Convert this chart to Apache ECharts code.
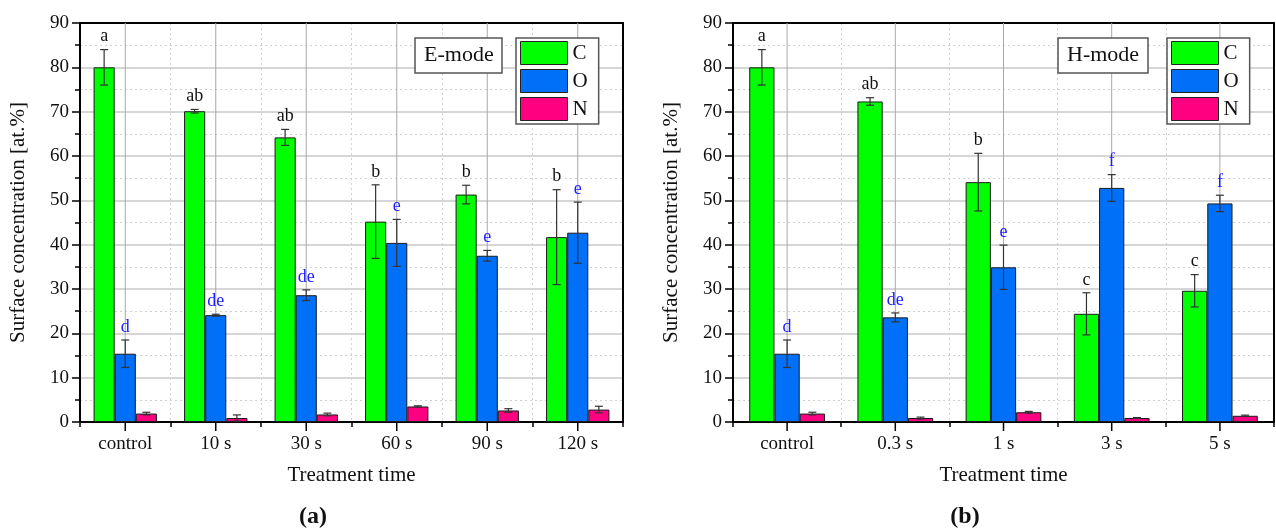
<!DOCTYPE html>
<html>
<head>
<meta charset="utf-8">
<script src="https://cdn.jsdelivr.net/npm/echarts@6/dist/echarts.min.js"></script>
<style>
html,body{margin:0;padding:0;background:#fff;}
#chart{width:1276px;height:530px;}
</style>
</head>
<body>
<div id="chart"></div>
<script>
// ---- data ----
const catsA = ['control', '10 s', '30 s', '60 s', '90 s', '120 s'];
const cA = [80, 70.1, 64.2, 45.2, 51.3, 41.7];
const cAErr = [4, 0.4, 1.8, 8.3, 2.1, 10.7];
const oA = [15.4, 24.1, 28.6, 40.4, 37.5, 42.7];
const oAErr = [3.1, 0.2, 1.2, 5.3, 1.2, 6.9];
const nA = [1.9, 0.9, 1.7, 3.5, 2.6, 2.8];
const nAErr = [0.3, 0.7, 0.3, 0.15, 0.4, 0.75];
const cALabels = ['a', 'ab', 'ab', 'b', 'b', 'b'];
const oALabels = ['d', 'de', 'de', 'e', 'e', 'e'];

const catsB = ['control', '0.3 s', '1 s', '3 s', '5 s'];
const cB = [80, 72.3, 54.1, 24.4, 29.6];
const cBErr = [4, 0.85, 6.5, 4.75, 3.65];
const oB = [15.4, 23.6, 34.9, 52.8, 49.3];
const oBErr = [3.1, 1.0, 5.0, 3.0, 1.85];
const nB = [1.9, 0.9, 2.2, 0.9, 1.4];
const nBErr = [0.3, 0.2, 0.2, 0.1, 0.15];
const cBLabels = ['a', 'ab', 'b', 'c', 'c'];
const oBLabels = ['d', 'de', 'e', 'f', 'f'];

const yTicks = { min: 0, max: 90, interval: 10 };
const seriesNames = ['C', 'O', 'N'];
const panelTitles = ['E-mode', 'H-mode'];
const panelTags = ['(a)', '(b)'];
const xName = 'Treatment time';
const yName = 'Surface concentration [at.%]';

// ---- style ----
const FONT = '"Liberation Serif", "Times New Roman", serif';
const COLORS = ['#00ff00', '#0070f8', '#ff0080'];
const GROUP = 0.7; // fraction of band used by bar group

const chart = echarts.init(document.getElementById('chart'));

function catAxis(gridIndex, data) {
  return {
    type: 'category', gridIndex, data, position: 'bottom',
    axisLine: { show: true, onZero: false, lineStyle: { color: '#000', width: 2 } },
    axisTick: { show: true, length: 5, lineStyle: { color: '#000', width: 1.5 } },
    axisLabel: { margin: 13, fontFamily: FONT, fontSize: 19, color: '#111' },
    splitLine: { show: true, lineStyle: { type: [2, 3], color: '#d0d0d0', width: 1 } },
    name: xName, nameLocation: 'middle', nameGap: 43,
    nameTextStyle: { fontFamily: FONT, fontSize: 21, color: '#111' }
  };
}
function topAxis(gridIndex, data) {
  return {
    type: 'category', gridIndex, data, position: 'top',
    axisLine: { show: true, onZero: false, lineStyle: { color: '#000', width: 2 } },
    axisTick: { show: false }, axisLabel: { show: false }, splitLine: { show: false }
  };
}
function valAxis(gridIndex) {
  return {
    type: 'value', gridIndex, position: 'left', min: yTicks.min, max: yTicks.max, interval: yTicks.interval,
    axisLine: { show: true, onZero: false, lineStyle: { color: '#000', width: 2 } },
    axisTick: { show: true, length: 8, lineStyle: { color: '#000', width: 1.5 } },
    minorTick: { show: true, splitNumber: 2, length: 5, lineStyle: { color: '#000', width: 1.5 } },
    axisLabel: { margin: 11, fontFamily: FONT, fontSize: 19, color: '#111' },
    splitLine: { show: true, lineStyle: { color: '#c8c8c8', width: 1.6 } },
    minorSplitLine: { show: true, lineStyle: { type: [2, 3], color: '#d0d0d0', width: 1 } },
    name: yName, nameLocation: 'middle', nameGap: 51, nameRotate: 90,
    nameTextStyle: { fontFamily: FONT, fontSize: 21, color: '#111' }
  };
}
function rightAxis(gridIndex) {
  return {
    type: 'value', gridIndex, position: 'right', min: yTicks.min, max: yTicks.max, interval: yTicks.interval,
    axisLine: { show: true, onZero: false, lineStyle: { color: '#000', width: 2 } },
    axisTick: { show: false }, axisLabel: { show: false }, splitLine: { show: false }
  };
}
function bar(name, data, k, axisIdx) {
  return {
    name, type: 'bar', data, xAxisIndex: axisIdx, yAxisIndex: axisIdx,
    barGap: '0%', barCategoryGap: '30%', z: 2,
    itemStyle: { color: COLORS[k], borderColor: '#1a1a1a', borderWidth: 1 }
  };
}
// solid vertical grid lines and long ticks at category centres
function centreLines(cats, axisIdx) {
  return {
    type: 'custom', xAxisIndex: axisIdx, yAxisIndex: axisIdx, z: 1, silent: true, clip: false,
    data: cats.map((c, i) => [i, yTicks.min]),
    encode: { x: 0, y: 1 },
    renderItem: function (params, api) {
      const i = api.value(0);
      const p0 = api.coord([i, yTicks.min]);
      const p1 = api.coord([i, yTicks.max]);
      return {
        type: 'group', children: [
          { type: 'line', shape: { x1: p0[0], y1: p1[1], x2: p0[0], y2: p0[1] }, style: { stroke: '#a8a8a8', lineWidth: 1 } },
          { type: 'line', shape: { x1: p0[0], y1: p0[1], x2: p0[0], y2: p0[1] + 9 }, style: { stroke: '#000', lineWidth: 1.5 } }
        ]
      };
    }
  };
}
function errSeries(values, errs, labels, k, labelColor, axisIdx) {
  return {
    type: 'custom', xAxisIndex: axisIdx, yAxisIndex: axisIdx, z: 5, silent: true,
    data: values.map((v, i) => [i, v, errs[i]]),
    encode: { x: 0, y: 1 },
    renderItem: function (params, api) {
      const i = api.value(0), v = api.value(1), e = api.value(2);
      const band = api.size([1, 0])[0];
      const c = api.coord([i, v]);
      const x = c[0] + (k - 1) * band * GROUP / 3;
      const top = api.coord([i, v + e])[1];
      const bot = api.coord([i, v - e])[1];
      const cap = 4;
      const ls = { stroke: '#333', lineWidth: 1.2 };
      const children = [
        { type: 'line', shape: { x1: x, y1: top, x2: x, y2: bot }, style: ls },
        { type: 'line', shape: { x1: x - cap, y1: top, x2: x + cap, y2: top }, style: ls },
        { type: 'line', shape: { x1: x - cap, y1: bot, x2: x + cap, y2: bot }, style: ls }
      ];
      if (labels) {
        children.push({
          type: 'text',
          style: {
            text: labels[params.dataIndex], x: x, y: top - 4,
            textAlign: 'center', textVerticalAlign: 'bottom',
            font: '18px ' + FONT, fill: labelColor
          }
        });
      }
      return { type: 'group', children };
    }
  };
}
function legend(left) {
  return {
    data: seriesNames, left, top: 38, orient: 'vertical',
    itemWidth: 47, itemHeight: 23, itemGap: 4, icon: 'rect',
    padding: [3, 11, 3, 4],
    borderColor: '#555', borderWidth: 1.5, backgroundColor: '#fff',
    textStyle: { fontFamily: FONT, fontSize: 21, color: '#111' },
    itemStyle: { borderColor: '#222', borderWidth: 1 }
  };
}
function modeTitle(text, left) {
  return {
    text, left, top: 38, padding: [6, 9, 6, 9],
    borderColor: '#555', borderWidth: 1.5, backgroundColor: '#fff',
    textStyle: { fontFamily: FONT, fontSize: 22, fontWeight: 'normal', color: '#111', lineHeight: 23 }
  };
}

const option = {
  backgroundColor: '#fff',
  animation: false,
  grid: [
    { left: 80, top: 23, width: 543, height: 399, show: false },
    { left: 733, top: 23, width: 541, height: 399, show: false }
  ],
  xAxis: [catAxis(0, catsA), catAxis(1, catsB), topAxis(0, catsA), topAxis(1, catsB)],
  yAxis: [valAxis(0), valAxis(1), rightAxis(0), rightAxis(1)],
  legend: [legend(516), legend(1167)],
  title: [modeTitle(panelTitles[0], 415), modeTitle(panelTitles[1], 1058)],
  graphic: [
    { type: 'text', x: 313, y: 517, style: { text: panelTags[0], textAlign: 'center', textVerticalAlign: 'middle', font: 'bold 24px ' + FONT, fill: '#111' } },
    { type: 'text', x: 965, y: 517, style: { text: panelTags[1], textAlign: 'center', textVerticalAlign: 'middle', font: 'bold 24px ' + FONT, fill: '#111' } }
  ],
  series: [
    centreLines(catsA, 0), centreLines(catsB, 1),
    bar(seriesNames[0], cA, 0, 0), bar(seriesNames[1], oA, 1, 0), bar(seriesNames[2], nA, 2, 0),
    bar(seriesNames[0], cB, 0, 1), bar(seriesNames[1], oB, 1, 1), bar(seriesNames[2], nB, 2, 1),
    errSeries(cA, cAErr, cALabels, 0, '#111', 0),
    errSeries(oA, oAErr, oALabels, 1, '#2020ff', 0),
    errSeries(nA, nAErr, null, 2, '#111', 0),
    errSeries(cB, cBErr, cBLabels, 0, '#111', 1),
    errSeries(oB, oBErr, oBLabels, 1, '#2020ff', 1),
    errSeries(nB, nBErr, null, 2, '#111', 1)
  ]
};
chart.setOption(option);
</script>
</body>
</html>
